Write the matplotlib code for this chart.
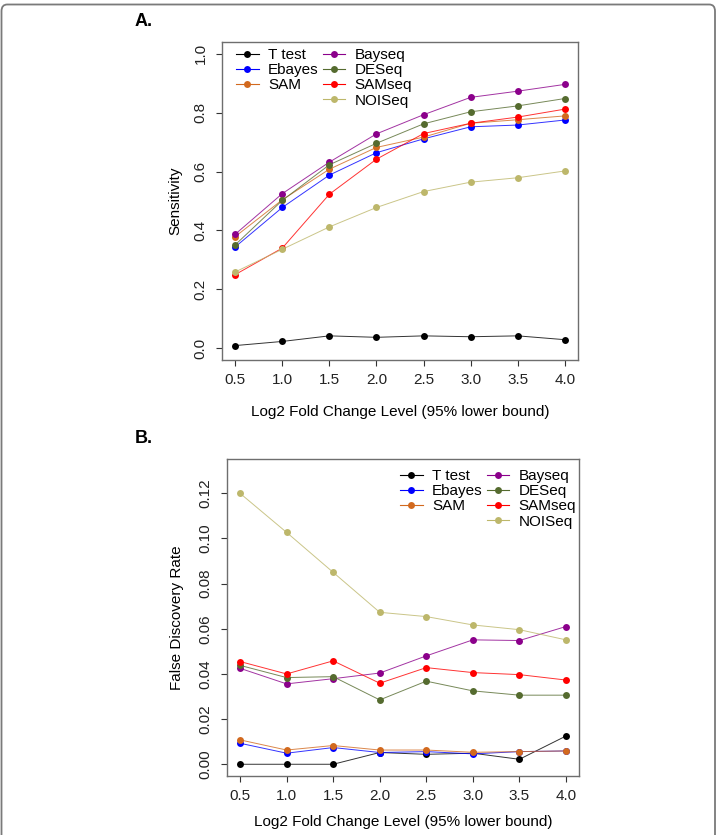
import matplotlib
matplotlib.use("Agg")
import matplotlib.pyplot as plt
from matplotlib.patches import FancyBboxPatch
from matplotlib.lines import Line2D

plt.rcParams["font.family"] = ["Liberation Sans", "DejaVu Sans"]

fold = [0.5, 1.0, 1.5, 2.0, 2.5, 3.0, 3.5, 4.0]
methods = ["T test", "Ebayes", "SAM", "Bayseq", "DESeq", "SAMseq", "NOISeq"]
colors = ["#000000", "#0000ff", "#d2691e", "#8b008b", "#556b2f", "#ff0000", "#bdb76b"]

# sensitivity (panel A)
sens_ttest = [0.009, 0.023, 0.042, 0.037, 0.042, 0.039, 0.042, 0.029]
sens_ebayes = [0.344, 0.478, 0.588, 0.664, 0.711, 0.752, 0.758, 0.775]
sens_sam = [0.379, 0.504, 0.608, 0.682, 0.717, 0.764, 0.776, 0.789]
sens_bayseq = [0.387, 0.525, 0.632, 0.728, 0.793, 0.852, 0.873, 0.896]
sens_deseq = [0.351, 0.502, 0.623, 0.696, 0.762, 0.803, 0.823, 0.848]
sens_samseq = [0.250, 0.340, 0.523, 0.642, 0.729, 0.764, 0.785, 0.812]
sens_noiseq = [0.259, 0.336, 0.412, 0.478, 0.532, 0.564, 0.579, 0.602]

# false discovery rate (panel B)
fdr_ttest = [0.0, 0.0, 0.0, 0.0052, 0.0044, 0.0049, 0.0022, 0.0125]
fdr_ebayes = [0.0093, 0.0049, 0.0074, 0.0052, 0.0056, 0.0046, 0.0056, 0.0059]
fdr_sam = [0.0108, 0.0063, 0.0083, 0.0063, 0.0063, 0.0053, 0.0056, 0.0059]
fdr_bayseq = [0.0425, 0.0356, 0.0379, 0.0404, 0.0480, 0.0551, 0.0548, 0.0610]
fdr_deseq = [0.0438, 0.0384, 0.0388, 0.0285, 0.0368, 0.0325, 0.0306, 0.0306]
fdr_samseq = [0.0455, 0.0400, 0.0458, 0.0359, 0.0428, 0.0406, 0.0397, 0.0373]
fdr_noiseq = [0.1200, 0.1027, 0.0850, 0.0673, 0.0654, 0.0617, 0.0596, 0.0551]

sens = [sens_ttest, sens_ebayes, sens_sam, sens_bayseq, sens_deseq, sens_samseq, sens_noiseq]
fdr = [fdr_ttest, fdr_ebayes, fdr_sam, fdr_bayseq, fdr_deseq, fdr_samseq, fdr_noiseq]

W, H = 718, 835
fig = plt.figure(figsize=(W / 100, H / 100), dpi=100)

# rounded frame around the figure
frame = FancyBboxPatch((1.5 / W, -0.05), 713.5 / W, 1 - 4.5 / H + 0.05,
                       boxstyle="round,pad=0,rounding_size=0.008",
                       transform=fig.transFigure, facecolor="none",
                       edgecolor="#7a7a7a", linewidth=1.3)
fig.patches.append(frame)


def px_axes(x0, y0, x1, y1):
    return fig.add_axes([x0 / W, 1 - y1 / H, (x1 - x0) / W, (y1 - y0) / H])


def style(ax, ylim, yticks, yfmt):
    ax.set_xlim(0.36, 4.14)
    lo, hi = ylim
    pad = (hi - lo) * 0.04
    ax.set_ylim(lo - pad, hi + pad)
    ax.set_xticks(fold)
    ax.set_xticklabels([f"{v:.1f}" for v in fold])
    ax.set_yticks(yticks)
    ax.set_yticklabels([yfmt.format(v) for v in yticks], rotation=90, va="center")
    for s in ax.spines.values():
        s.set_color("#6e6e6e")
        s.set_linewidth(1.0)
    ax.tick_params(colors="#333333", labelcolor="#222222", labelsize=11,
                   length=4.5, width=0.8, direction="out")
    ax.tick_params(axis="y", pad=6)
    ax.tick_params(axis="x", pad=5)


def draw(ax, data):
    for vals, c in zip(data, colors):
        ax.plot(fold, vals, color=c, linewidth=0.7, alpha=0.8)
        ax.plot(fold, vals, linestyle="none", marker="o", markersize=5,
                color=c, markeredgewidth=0)


def legend(ax, anchor):
    handles = [Line2D([], [], color=c, linewidth=0.8, marker="o", markersize=5,
                      markeredgewidth=0) for c in colors]
    blank = Line2D([], [], linestyle="none")
    hs = handles[:3] + [blank] + handles[3:]
    ls = methods[:3] + [""] + methods[3:]
    ax.legend(hs, ls, ncol=2, loc="upper left", bbox_to_anchor=anchor,
              frameon=False, fontsize=11, handlelength=1.5, handletextpad=0.6,
              columnspacing=0.25, labelspacing=0.08, borderpad=0, borderaxespad=0)


# panel A
ax1 = px_axes(222, 42, 578, 360)
draw(ax1, sens)
style(ax1, (0, 1), [0.0, 0.2, 0.4, 0.6, 0.8, 1.0], "{:.1f}")
ax1.set_xlabel("Log2 Fold Change Level (95% lower bound)", fontsize=11)
ax1.set_ylabel("Sensitivity", fontsize=11)
ax1.xaxis.label.set_va("center")
ax1.yaxis.label.set_va("center")
ax1.xaxis.set_label_coords(0.5, (360 - 412) / 318)
ax1.yaxis.set_label_coords((175 - 222) / 356, 0.5)
legend(ax1, ((236 - 222) / 356, (360 - 48) / 318))

# panel B
ax2 = px_axes(227, 459, 579, 776)
draw(ax2, fdr)
style(ax2, (0, 0.13), [0.0, 0.02, 0.04, 0.06, 0.08, 0.10, 0.12], "{:.2f}")
ax2.set_xlabel("Log2 Fold Change Level (95% lower bound)", fontsize=11)
ax2.set_ylabel("False Discovery Rate", fontsize=11)
ax2.xaxis.label.set_va("center")
ax2.yaxis.label.set_va("center")
ax2.xaxis.set_label_coords(0.5, (776 - 822) / 317)
ax2.yaxis.set_label_coords((177 - 227) / 352, 0.5)
legend(ax2, ((400 - 227) / 352, (776 - 469) / 317))

fig.text(135 / W, 1 - 21.5 / H, "A.", fontsize=13, fontweight="bold", va="center", ha="left")
fig.text(135 / W, 1 - 438.5 / H, "B.", fontsize=13, fontweight="bold", va="center", ha="left")

fig.savefig("out.png", dpi=100)
